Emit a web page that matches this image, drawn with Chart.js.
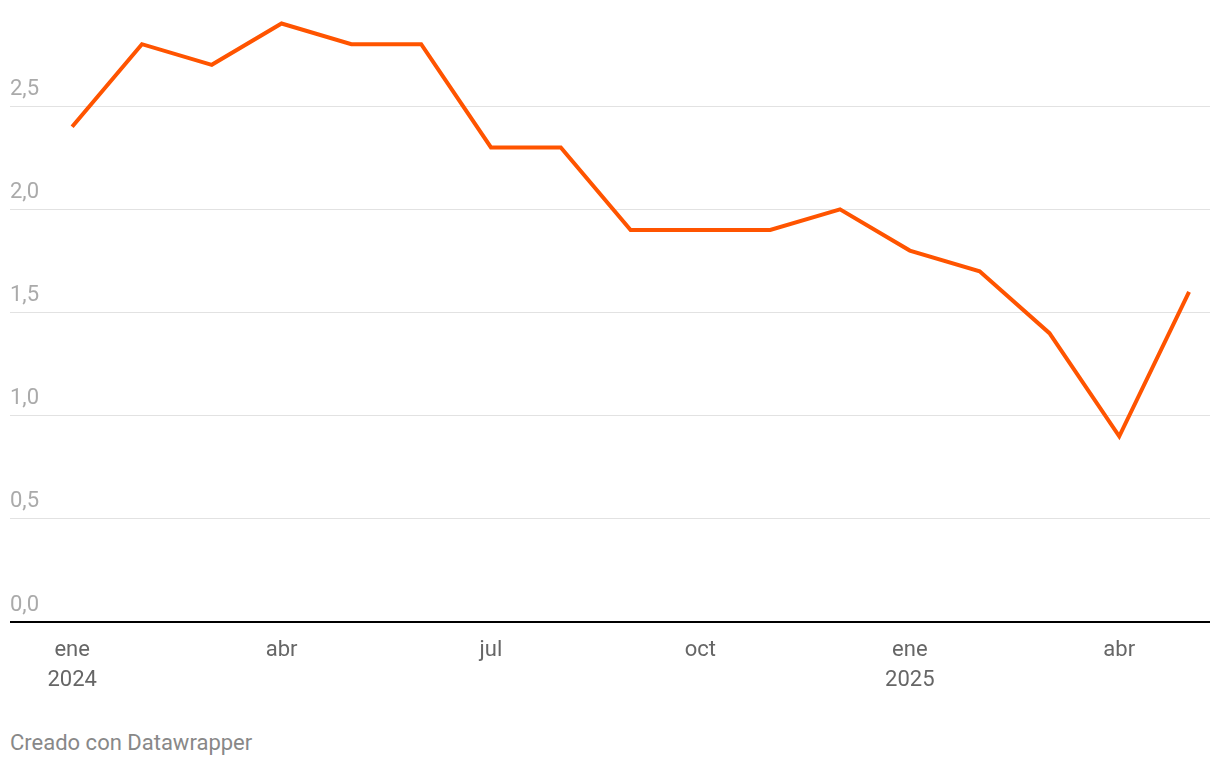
<!DOCTYPE html>
<html>
<head>
<meta charset="utf-8">
<script src="https://cdn.jsdelivr.net/npm/chart.js@4"></script>
<style>
  html, body { margin: 0; padding: 0; background: #fff; }
  #wrap { position: relative; width: 1220px; height: 708px; }
  #credit {
    position: absolute; left: 10px; top: 730px;
    font-family: Roboto, sans-serif; font-size: 22px; color: #888;
  }
</style>
</head>
<body>
<div id="wrap"><canvas id="chart"></canvas></div>
<div id="credit">Creado con Datawrapper</div>
<script>
// monthly values, ene 2024 .. may 2025
const months = ["ene 2024", "feb", "mar", "abr", "may", "jun", "jul", "ago", "sep",
  "oct", "nov", "dic", "ene 2025", "feb", "mar", "abr", "may"];
const values = [2.4, 2.8, 2.7, 2.9, 2.8, 2.8, 2.3, 2.3, 1.9, 1.9, 1.9, 2.0, 1.8, 1.7, 1.4, 0.9, 1.6];

const xTickIdx = [0, 3, 6, 9, 12, 15];
const xTickLabels = [["ene", "2024"], "abr", "jul", "oct", ["ene", "2025"], "abr"];
const yTicks = [0, 0.5, 1.0, 1.5, 2.0, 2.5];

const points = values.map((v, i) => ({ x: i, y: v }));

new Chart(document.getElementById("chart").getContext("2d"), {
  type: "line",
  data: {
    datasets: [{
      data: points,
      borderColor: "#ff5400",
      borderWidth: 4,
      pointRadius: 0,
      tension: 0,
      borderJoinStyle: "miter",
    }],
  },
  options: {
    responsive: true,
    maintainAspectRatio: false,
    animation: false,
    layout: { padding: { left: 10, right: 10, top: 0, bottom: 0 } },
    plugins: { legend: { display: false }, tooltip: { enabled: false } },
    scales: {
      x: {
        type: "linear",
        min: -0.89,
        max: 16.3,
        afterBuildTicks: (axis) => { axis.ticks = xTickIdx.map((v) => ({ value: v })); },
        grid: { display: false, drawTicks: false },
        border: { display: false },
        ticks: {
          color: "#666",
          font: { family: "Roboto", size: 22, lineHeight: 1.36 },
          padding: 13,
          maxRotation: 0,
          autoSkip: false,
          callback: (v) => xTickLabels[xTickIdx.indexOf(v)],
        },
      },
      y: {
        min: 0,
        max: 2.95,
        afterBuildTicks: (axis) => { axis.ticks = yTicks.map((v) => ({ value: v })); },
        grid: {
          drawTicks: false,
          color: (c) => (c.tick.value === 0 ? "#000" : "#e2e2e2"),
          lineWidth: (c) => (c.tick.value === 0 ? 2 : 1),
        },
        border: { display: false },
        ticks: {
          mirror: true,
          padding: 0,
          labelOffset: -17,
          color: "#aaa",
          font: { family: "Roboto", size: 22 },
          callback: (v) => v.toFixed(1).replace(".", ","),
        },
      },
    },
  },
});
</script>
</body>
</html>
